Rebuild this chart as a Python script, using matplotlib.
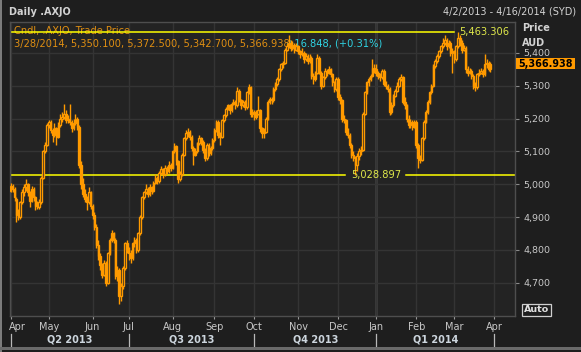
import matplotlib
matplotlib.use("Agg")

import matplotlib.pyplot as plt
import matplotlib.transforms as mtransforms
import numpy as np
import pandas as pd
from matplotlib.patches import Rectangle

W, H = 581, 352

# .AXJO daily candles, 2 Apr 2013 .. 28 Mar 2014 (one value per trading day)
opens = [
    4980, 4995, 4985, 4955, 4905, 4900, 4945, 4975, 4990, 5000, 4975, 4950, 4985, 4960, 4935, 4930, 4945, 5020, 5100, 5120,
    5180, 5190, 5165, 5150, 5170, 5145, 5180, 5200, 5205, 5215, 5195, 5200, 5190, 5170, 5185, 5200, 5175, 5060, 5000, 4970, 4955, 4945, 4975,
    4935, 4905, 4870, 4815, 4780, 4755, 4725, 4760, 4700, 4790, 4830, 4850, 4830, 4720, 4740, 4660, 4690, 4745, 4820,
    4800, 4790, 4775, 4820, 4830, 4800, 4850, 4900, 4960, 4975, 4985, 4970, 4990, 4980, 5005, 5020, 5010, 5035, 5045, 5030, 5050, 5040, 5060,
    5050, 5100, 5115, 5070, 5015, 5030, 5090, 5140, 5155, 5160, 5145, 5110, 5090, 5100, 5125, 5140, 5130, 5105, 5080, 5120, 5095, 5110,
    5135, 5165, 5190, 5150, 5145, 5195, 5210, 5230, 5240, 5225, 5245, 5250, 5240, 5285, 5255, 5240, 5250, 5235, 5280, 5295, 5215,
    5220, 5205, 5215, 5225, 5170, 5155, 5160, 5200, 5250, 5260, 5255, 5290, 5305, 5320, 5350, 5365, 5370, 5410, 5420, 5430, 5415, 5425, 5410,
    5420, 5405, 5395, 5400, 5380, 5390, 5375, 5385, 5330, 5320, 5340, 5385, 5340, 5300, 5325, 5345, 5340, 5350, 5335, 5310, 5290,
    5320, 5265, 5255, 5200, 5195, 5160, 5150, 5120, 5090, 5080, 5060, 5085, 5100, 5105, 5215, 5280, 5310, 5320, 5330, 5355,
    5350, 5340, 5330, 5325, 5345, 5305, 5300, 5290, 5220, 5240, 5270, 5285, 5300, 5320, 5325, 5250, 5240, 5200, 5180, 5190, 5175,
    5190, 5120, 5080, 5075, 5140, 5190, 5220, 5250, 5280, 5300, 5360, 5375, 5390, 5405, 5420, 5430, 5440, 5420, 5430, 5400,
    5405, 5380, 5420, 5445, 5430, 5410, 5415, 5350, 5340, 5345, 5330, 5300, 5295, 5335, 5340, 5345, 5335, 5365, 5370, 5350.1,
]
highs = [
    5005, 5000, 4990, 4960, 4925, 4950, 4985, 5000, 5015, 5005, 4980, 4995, 4990, 4965, 4950, 4955, 5025, 5105, 5130, 5185,
    5195, 5195, 5170, 5185, 5175, 5190, 5215, 5220, 5245, 5225, 5210, 5245, 5195, 5200, 5215, 5205, 5180, 5070, 5020, 4985, 4965, 4990, 4980,
    4940, 4915, 4880, 4830, 4790, 4760, 4770, 4765, 4795, 4835, 4860, 4855, 4835, 4750, 4745, 4700, 4750, 4825, 4830,
    4810, 4800, 4825, 4840, 4835, 4855, 4905, 4965, 4980, 5000, 4990, 5000, 4995, 5010, 5030, 5025, 5040, 5055, 5050, 5060, 5055, 5070, 5065,
    5105, 5125, 5120, 5075, 5040, 5095, 5145, 5165, 5170, 5165, 5150, 5115, 5110, 5130, 5150, 5145, 5135, 5110, 5125, 5125, 5115, 5140,
    5170, 5195, 5195, 5160, 5200, 5215, 5235, 5245, 5245, 5250, 5260, 5255, 5295, 5290, 5260, 5255, 5255, 5285, 5305, 5300, 5230,
    5225, 5225, 5270, 5230, 5175, 5170, 5205, 5255, 5265, 5265, 5295, 5310, 5325, 5355, 5370, 5375, 5415, 5430, 5455, 5440, 5435, 5430, 5430,
    5425, 5410, 5415, 5405, 5400, 5395, 5395, 5390, 5340, 5345, 5395, 5390, 5345, 5330, 5355, 5350, 5360, 5355, 5340, 5315, 5325,
    5325, 5275, 5260, 5210, 5200, 5170, 5155, 5125, 5100, 5085, 5095, 5110, 5115, 5220, 5285, 5315, 5325, 5335, 5380, 5365,
    5365, 5345, 5340, 5350, 5350, 5315, 5305, 5295, 5250, 5275, 5290, 5310, 5325, 5335, 5330, 5265, 5245, 5210, 5200, 5195, 5195,
    5195, 5125, 5090, 5145, 5195, 5225, 5255, 5285, 5305, 5365, 5380, 5395, 5410, 5425, 5445, 5455, 5445, 5440, 5435, 5415,
    5410, 5425, 5463.306, 5455, 5440, 5425, 5420, 5360, 5355, 5350, 5335, 5310, 5340, 5350, 5355, 5350, 5395, 5380, 5375, 5372.5,
]
lows = [
    4975, 4975, 4950, 4885, 4890, 4895, 4940, 4965, 4980, 4965, 4930, 4945, 4950, 4920, 4925, 4925, 4940, 5015, 5095, 5115,
    5170, 5155, 5130, 5145, 5120, 5140, 5175, 5190, 5200, 5185, 5185, 5180, 5160, 5165, 5180, 5165, 5050, 4985, 4960, 4945, 4920, 4940, 4925,
    4895, 4860, 4805, 4770, 4740, 4715, 4720, 4690, 4695, 4785, 4825, 4820, 4710, 4705, 4635, 4645, 4680, 4740, 4790,
    4770, 4760, 4770, 4810, 4790, 4795, 4845, 4895, 4955, 4970, 4960, 4965, 4970, 4975, 5000, 5000, 5005, 5030, 5020, 5025, 5030, 5035, 5040,
    5045, 5095, 5060, 5005, 5010, 5025, 5085, 5135, 5145, 5135, 5100, 5060, 5085, 5095, 5120, 5120, 5095, 5070, 5075, 5085, 5090, 5105,
    5130, 5160, 5140, 5120, 5140, 5190, 5205, 5225, 5215, 5220, 5240, 5230, 5235, 5250, 5230, 5235, 5225, 5230, 5275, 5205, 5205,
    5195, 5200, 5210, 5160, 5140, 5140, 5155, 5195, 5245, 5245, 5250, 5285, 5300, 5315, 5345, 5355, 5365, 5405, 5415, 5405, 5410, 5400, 5405,
    5395, 5385, 5390, 5370, 5375, 5365, 5370, 5320, 5305, 5315, 5335, 5335, 5290, 5295, 5320, 5330, 5335, 5325, 5300, 5280, 5285,
    5255, 5245, 5190, 5185, 5150, 5140, 5110, 5080, 5070, 5028.897, 5040, 5075, 5090, 5100, 5210, 5275, 5300, 5315, 5325, 5340,
    5330, 5320, 5315, 5320, 5300, 5290, 5280, 5210, 5215, 5235, 5265, 5280, 5295, 5315, 5245, 5230, 5190, 5170, 5170, 5165, 5170,
    5110, 5050, 5065, 5070, 5135, 5185, 5215, 5245, 5275, 5295, 5355, 5370, 5385, 5400, 5415, 5425, 5410, 5415, 5390, 5340,
    5370, 5375, 5415, 5420, 5400, 5405, 5340, 5330, 5335, 5320, 5290, 5285, 5290, 5330, 5335, 5325, 5330, 5355, 5345, 5342.7,
]
closes = [
    4995, 4985, 4960, 4905, 4900, 4945, 4975, 4990, 5000, 4975, 4950, 4985, 4960, 4935, 4930, 4945, 5020, 5100, 5120, 5180,
    5190, 5165, 5150, 5170, 5145, 5180, 5200, 5205, 5215, 5195, 5200, 5190, 5170, 5185, 5200, 5175, 5060, 5000, 4970, 4955, 4945, 4975, 4935,
    4905, 4870, 4815, 4780, 4755, 4725, 4760, 4700, 4790, 4830, 4850, 4830, 4720, 4740, 4660, 4690, 4745, 4820, 4800,
    4790, 4775, 4820, 4830, 4800, 4850, 4900, 4960, 4975, 4985, 4970, 4990, 4980, 5005, 5020, 5010, 5035, 5045, 5030, 5050, 5040, 5060, 5050,
    5100, 5115, 5070, 5015, 5030, 5090, 5140, 5155, 5160, 5145, 5110, 5090, 5100, 5125, 5140, 5130, 5105, 5080, 5120, 5095, 5110, 5135,
    5165, 5190, 5150, 5145, 5195, 5210, 5230, 5240, 5225, 5245, 5250, 5240, 5285, 5255, 5240, 5250, 5235, 5280, 5295, 5215, 5220,
    5205, 5215, 5225, 5170, 5155, 5160, 5200, 5250, 5260, 5255, 5290, 5305, 5320, 5350, 5365, 5370, 5410, 5420, 5430, 5415, 5425, 5410, 5420,
    5405, 5395, 5400, 5380, 5390, 5375, 5385, 5330, 5320, 5340, 5385, 5340, 5300, 5325, 5345, 5340, 5350, 5335, 5310, 5290, 5320,
    5265, 5255, 5200, 5195, 5160, 5150, 5120, 5090, 5080, 5060, 5085, 5100, 5105, 5215, 5280, 5310, 5320, 5330, 5355, 5350,
    5340, 5330, 5325, 5345, 5305, 5300, 5290, 5220, 5240, 5270, 5285, 5300, 5320, 5325, 5250, 5240, 5200, 5180, 5190, 5175, 5190,
    5120, 5080, 5075, 5140, 5190, 5220, 5250, 5280, 5300, 5360, 5375, 5390, 5405, 5420, 5430, 5440, 5420, 5430, 5400, 5405,
    5380, 5420, 5445, 5430, 5410, 5415, 5350, 5340, 5345, 5330, 5300, 5295, 5335, 5340, 5345, 5335, 5365, 5370, 5350.09, 5366.938,
]

# horizontal reference levels drawn on the chart
level_high = 5463.306
level_low = 5028.897

holidays = ["2013-04-25", "2013-06-10", "2013-12-25", "2013-12-26", "2014-01-01", "2014-01-27"]
price_ticks = [4700, 4800, 4900, 5000, 5100, 5200, 5300, 5400]

ORANGE = "#ff9a00"
TEXT_ORANGE = "#e08f12"
YELLOW = "#ffff00"
LABEL_YELLOW = "#dfe84a"
CYAN = "#2fd4e4"
GREY_TEXT = "#c8c8c8"
PLOT_BG = "#232323"
FIG_BG = "#1e1e1e"
GRID = "#343434"


def px(x, y):
    """pixel position (from top-left) -> figure fraction"""
    return x / W, 1 - y / H


o = np.array(opens, dtype=float)
h = np.array(highs, dtype=float)
lo = np.array(lows, dtype=float)
c = np.array(closes, dtype=float)
n = len(c)
xs = np.arange(n)

days = pd.bdate_range("2013-04-02", "2014-04-16")
days = days[~days.isin(pd.to_datetime(holidays))]
month_starts = [i for i in range(len(days)) if i == 0 or days[i].month != days[i - 1].month]

fig = plt.figure(figsize=(W / 100, H / 100), dpi=100, facecolor=FIG_BG)
plt.rcParams["font.family"] = ["DejaVu Sans"]

ax = fig.add_axes([9.5 / W, 1 - 316 / H, (515 - 9.5) / W, (316 - 22) / H], facecolor=PLOT_BG)
ax.set_xlim(-0.63, 264.9)
ax.set_ylim(4598.7, 5493.9)

# grid
ax.set_yticks(price_ticks)
ax.set_yticklabels([f"{v:,}" for v in price_ticks])
ax.set_xticks(month_starts)
ax.set_xticklabels([])
ax.grid(True, color=GRID, linewidth=1.0, zorder=0)
ax.set_axisbelow(True)
for i in month_starts:
    if days[i].month == 1:
        ax.axvline(i, color="#3a3a3a", linewidth=2.2, zorder=0.5)

ax.yaxis.tick_right()
ax.tick_params(axis="y", length=3, width=0.8, color="#8a8a8a", labelcolor=GREY_TEXT,
               labelsize=6.8, pad=3)
ax.tick_params(axis="x", length=2.5, width=0.8, color="#9a9a9a", direction="out")
for s in ax.spines.values():
    s.set_color("#4e4e4e")
    s.set_linewidth(1.0)

# candles: hollow when up, filled when down
up = c >= o
ax.vlines(xs, lo, h, color=ORANGE, linewidth=1.0, zorder=3)
body_lo = np.minimum(o, c)
body_h = np.abs(c - o)
ax.bar(xs[up], body_h[up], bottom=body_lo[up], width=0.8, facecolor=PLOT_BG,
       edgecolor=ORANGE, linewidth=0.95, zorder=4)
ax.bar(xs[~up], body_h[~up], bottom=body_lo[~up], width=0.8, facecolor=ORANGE,
       edgecolor=ORANGE, linewidth=0.95, zorder=4)

# legend lines
last = n - 1
chg = c[last] - c[last - 1]
pct = chg / c[last - 1] * 100
ax.text(0.008, 1 - 8.5 / 294, "Cndl, .AXJO, Trade Price", transform=ax.transAxes,
        color=TEXT_ORANGE, fontsize=7.1, va="center", ha="left", zorder=2)
d_last = days[last]
line2 = (f"{d_last.month}/{d_last.day}/{d_last.year}, {o[last]:,.3f}, {h[last]:,.3f}, "
         f"{lo[last]:,.3f}, {c[last]:,.3f}")
t2 = ax.text(0.008, 1 - 21.8 / 294, line2, transform=ax.transAxes,
             color=TEXT_ORANGE, fontsize=7.1, va="center", ha="left", zorder=2)

# reference lines with labels, placed at the candle that touches each level
i_hi = int(np.argmin(np.abs(h - level_high)))
i_lo = int(np.argmin(np.abs(lo - level_low)))
t_hi = ax.text(i_hi + 0.6, level_high, f"{level_high:,.3f}", color=LABEL_YELLOW, fontsize=7.1,
               va="center", ha="left", zorder=5)
t_lo = ax.text(i_lo - 2.4, level_low, f"{level_low:,.3f}", color=LABEL_YELLOW, fontsize=7.1,
               va="center", ha="left", zorder=5)

fig.canvas.draw()
inv = ax.transData.inverted()
rend = fig.canvas.get_renderer()
bb2 = t2.get_window_extent(rend)
x_end = ax.transAxes.inverted().transform((bb2.x1 - 3, 0))[0]
ax.text(x_end, 1 - 21.8 / 294, f"+{chg:.3f}, (+{pct:.2f}%)", transform=ax.transAxes,
        color=CYAN, fontsize=7.1, va="center", ha="left", zorder=2)

bb_lo = t_lo.get_window_extent(rend)
lo_x0 = inv.transform((bb_lo.x0 - 6, 0))[0]
lo_x1 = inv.transform((bb_lo.x1 + 5, 0))[0]
x_min, x_max = ax.get_xlim()
ax.plot([x_min, lo_x0], [level_low, level_low], color=YELLOW, linewidth=1.1, zorder=2.5)
ax.plot([lo_x1, x_max], [level_low, level_low], color=YELLOW, linewidth=1.1, zorder=2.5)
bb_hi = t_hi.get_window_extent(rend)
hi_x0 = inv.transform((bb_hi.x0 - 5, 0))[0]
ax.plot([x_min, hi_x0], [level_high, level_high], color=YELLOW, linewidth=1.1, zorder=2.5)

# month and quarter labels under the plot
trans = mtransforms.blended_transform_factory(ax.transData, ax.transAxes)
for k, i in enumerate(month_starts):
    ax.text(i - 0.8 if k == 0 else i, -0.038, days[i].strftime("%b"), transform=trans,
            color=GREY_TEXT, fontsize=7, ha="left" if k == 0 else "center", va="center")

q_starts = [i for i in month_starts if days[i].month in (1, 4, 7, 10)]
for a, b in zip(q_starts[:-1], q_starts[1:]):
    q = (days[a].month - 1) // 3 + 1
    ax.text((a + b) / 2, -0.079, f"Q{q} {days[a].year}", transform=trans, color="#cdd6de",
            fontsize=7, fontweight="bold", ha="center", va="center")
for i in q_starts:
    ax.plot([i, i], [-0.061, -0.102], transform=trans, color="#b8b8b8", linewidth=0.9,
            clip_on=False)

# header texts
fig.text(*px(9, 12), "Daily .AXJO", color="#d2d2d2", fontsize=7, fontweight="bold",
         ha="left", va="center")
fig.text(*px(576, 12), f"{days[0].month}/{days[0].day}/{days[0].year} - "
         f"{days[-1].month}/{days[-1].day}/{days[-1].year} (SYD)",
         color="#d2d2d2", fontsize=7, ha="right", va="center")
fig.text(*px(522, 28.3), "Price", color="#d2d2d2", fontsize=7, fontweight="bold",
         ha="left", va="center")
fig.text(*px(522, 42.7), "AUD", color="#d2d2d2", fontsize=7, fontweight="bold",
         ha="left", va="center")

# last price tag
y_tag = ax.transData.transform((0, c[last]))[1]
y_tag_px = H - y_tag
fig.patches.append(Rectangle(px(516, y_tag_px + 5.5), 59 / W, 11 / H,
                             transform=fig.transFigure, facecolor=ORANGE, edgecolor="none"))
fig.text(*px(545.5, y_tag_px), f"{c[last]:,.3f}", color="black", fontsize=6.9,
         fontweight="bold", ha="center", va="center")

fig.text(*px(536.5, 310), "Auto", color="#e0e0e0", fontsize=6.8, fontweight="bold",
         ha="center", va="center",
         bbox=dict(boxstyle="square,pad=0.15", facecolor="none", edgecolor="#cfcfcf", linewidth=0.9))

# window frame strips
fig.patches.append(Rectangle((0, 0), 2.5 / W, 1, transform=fig.transFigure,
                             facecolor="#7c7c7c", edgecolor="none"))
fig.patches.append(Rectangle(px(0, 349.5), 1, 3 / H, transform=fig.transFigure,
                             facecolor="#6a6a6a", edgecolor="none"))

fig.savefig("out.png", dpi=100, facecolor=FIG_BG)
plt.close(fig)
